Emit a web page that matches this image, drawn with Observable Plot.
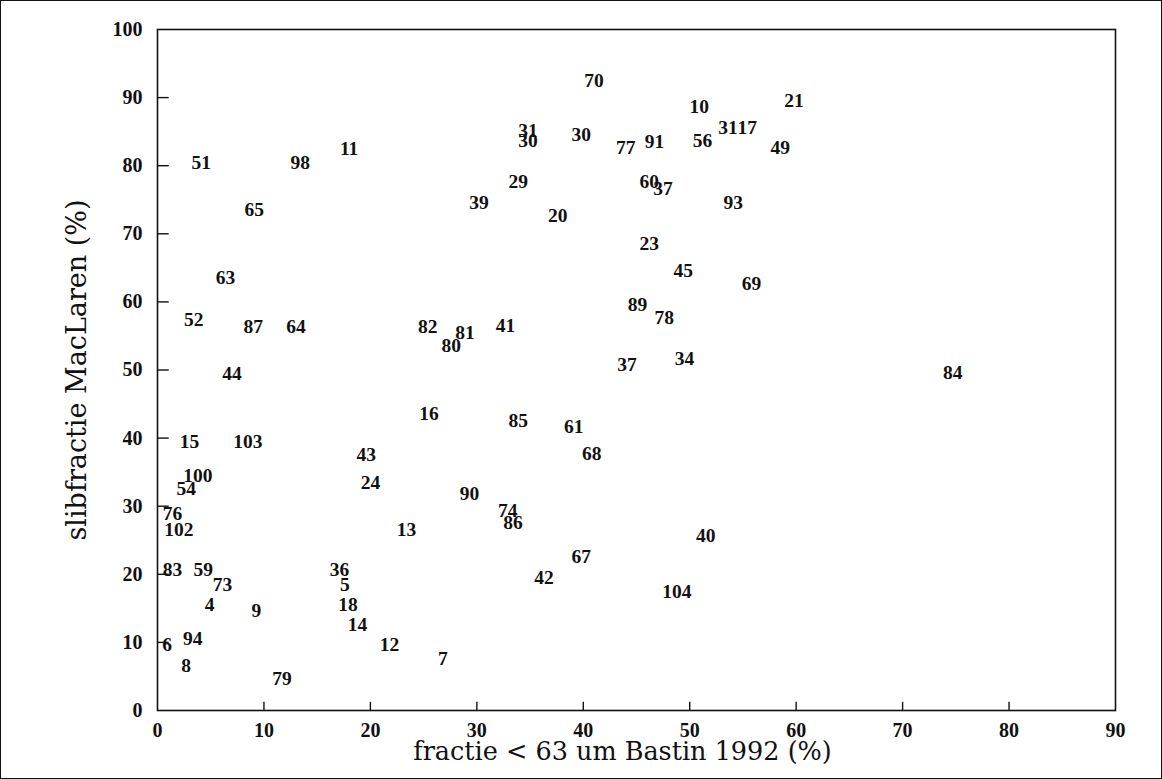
<!DOCTYPE html>
<html>
<head>
<meta charset="utf-8">
<script src="https://cdn.jsdelivr.net/npm/d3@7"></script>
<script src="https://cdn.jsdelivr.net/npm/@observablehq/plot@0.6"></script>
<style>
  html, body { margin: 0; padding: 0; background: #fff; }
  #chart { width: 1160px; height: 777px; border: 1px solid #111; }
  #chart svg { display: block; }
</style>
</head>
<body>
<div id="chart"></div>
<script>
// Sample numbers plotted as labels: silt fraction (MacLaren) against fraction < 63 um (Bastin 1992)
const sampleIds = [
  "70", "10", "21", "31", "30", "30", "77", "91", "56", "31", "17", "49",
  "51", "98", "11", "65", "39", "29", "60", "37", "93", "20", "23", "45",
  "69", "63", "89", "78", "52", "87", "64", "82", "81", "80", "41", "37",
  "34", "84", "44", "16", "85", "61", "15", "103", "68", "43", "100", "54",
  "24", "90", "74", "86", "76", "102", "13", "40", "67", "83", "59", "73",
  "36", "5", "42", "104", "4", "18", "9", "14", "6", "94", "12", "8", "7", "79"
];
const fractieBastin = [
  41.0, 50.9, 59.8, 34.8, 34.8, 39.8, 44.0, 46.7, 51.2, 53.6, 55.4, 58.5,
  4.1, 13.4, 18.0, 9.1, 30.2, 33.9, 46.2, 47.5, 54.1, 37.6, 46.2, 49.4,
  55.8, 6.4, 45.1, 47.6, 3.4, 9.0, 13.0, 25.4, 28.9, 27.6, 32.7, 44.1,
  49.5, 74.7, 7.0, 25.5, 33.9, 39.1, 3.0, 8.5, 40.8, 19.6, 3.8, 2.7,
  20.0, 29.3, 32.9, 33.4, 1.4, 2.0, 23.4, 51.5, 39.8, 1.4, 4.3, 6.1,
  17.1, 17.6, 36.3, 48.8, 4.9, 17.9, 9.3, 18.8, 0.9, 3.3, 21.8, 2.7, 26.8, 11.7
];
const slibMacLaren = [
  92.5, 88.6, 89.6, 85.2, 83.6, 84.6, 82.6, 83.5, 83.6, 85.6, 85.6, 82.6,
  80.5, 80.5, 82.5, 73.5, 74.5, 77.6, 77.6, 76.6, 74.6, 72.6, 68.6, 64.6,
  62.7, 63.5, 59.6, 57.6, 57.4, 56.4, 56.4, 56.4, 55.5, 53.5, 56.5, 50.7,
  51.6, 49.6, 49.4, 43.6, 42.6, 41.6, 39.5, 39.5, 37.7, 37.6, 34.5, 32.6,
  33.5, 31.8, 29.4, 27.6, 28.9, 26.5, 26.5, 25.6, 22.6, 20.6, 20.6, 18.5,
  20.6, 18.5, 19.5, 17.5, 15.6, 15.6, 14.6, 12.6, 9.7, 10.5, 9.7, 6.6, 7.6, 4.6
];
const xTicks = [0, 10, 20, 30, 40, 50, 60, 70, 80, 90];
const yTicks = [0, 10, 20, 30, 40, 50, 60, 70, 80, 90, 100];
const xTitle = "fractie < 63 um Bastin 1992 (%)";
const yTitle = "slibfractie MacLaren (%)";

const samples = sampleIds.map((id, i) => ({id, x: fractieBastin[i], y: slibMacLaren[i]}));

const serif = "'Liberation Serif', 'DejaVu Serif', serif";
const wideSerif = "'DejaVu Serif', 'Liberation Serif', serif";
const ink = "#111";

const chart = Plot.plot({
  width: 1160,
  height: 777,
  marginLeft: 156,
  marginRight: 46,
  marginTop: 28,
  marginBottom: 68,
  style: {fontFamily: serif, color: ink, background: "#fff"},
  x: {domain: [0, 90]},
  y: {domain: [0, 100]},
  marks: [
    Plot.frame({stroke: ink, strokeWidth: 1.6}),
    // short inward tick marks along both axes
    Plot.ruleX(xTicks.slice(1, -1), {x: d => d, y1: 0, y2: 1.2, stroke: ink, strokeWidth: 1.4}),
    Plot.ruleY(yTicks.slice(1, -1), {y: d => d, x1: 0, x2: 1.1, stroke: ink, strokeWidth: 1.4}),
    Plot.axisX({ticks: xTicks, tickSize: 0, tickPadding: 12, fontSize: 20, fontWeight: "bold", label: null}),
    Plot.axisY({ticks: yTicks, tickSize: 0, tickPadding: 15, fontSize: 20, fontWeight: "bold", label: null}),
    Plot.text([xTitle], {text: d => d, frameAnchor: "bottom", lineAnchor: "middle", textAnchor: "middle",
      dx: -14, dy: 41, fontSize: 25.5, fontFamily: wideSerif, fill: ink}),
    Plot.text([yTitle], {text: d => d, frameAnchor: "left", lineAnchor: "middle", textAnchor: "middle",
      rotate: -90, dx: -80, fontSize: 27, fontFamily: wideSerif, fill: ink}),
    Plot.text(samples, {x: "x", y: "y", text: "id", fontSize: 19.5, fontWeight: "bold", fill: ink})
  ]
});

document.getElementById("chart").appendChild(chart);
</script>
</body>
</html>
